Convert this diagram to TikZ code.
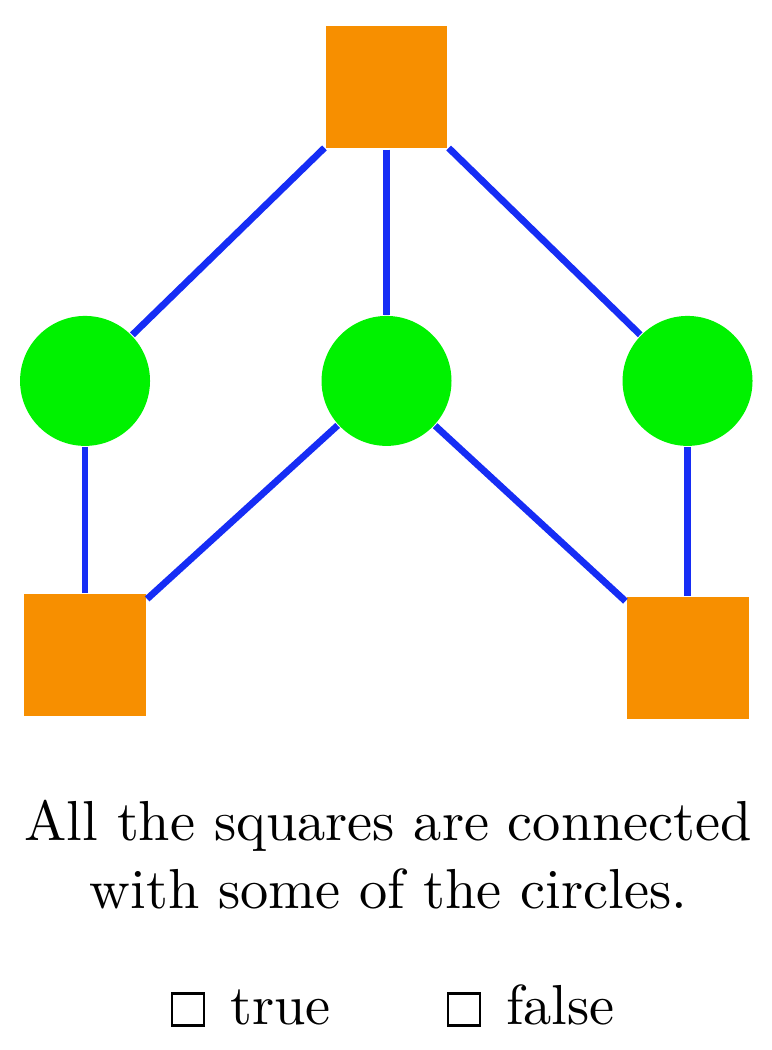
\documentclass[tikz,border=0pt]{standalone}
\usetikzlibrary{calc,shapes}
\definecolor{sqorange}{RGB}{247,143,0}
\definecolor{cgreen}{RGB}{0,242,0}
\definecolor{lblue}{RGB}{22,45,245}

\begin{document}
\begin{tikzpicture}[sq/.style={rectangle, inner sep=0, fill=sqorange, minimum size=0.76cm},
	cir/.style={circle, inner sep=0, fill=cgreen, minimum size=0.81cm},
	tick/.style={rectangle, inner sep=0, draw=black, line width=0.5pt, minimum size=0.2cm},
	lab/.style={inner sep=0, font=\normalsize},
	elink/.style={line width=1.2pt, lblue}]

		\useasboundingbox (-2.409,0.545) rectangle (2.397,-5.999);
		%squares
		\node[sq] at (0,0) (sq1) {};
		\node[sq] at (-1.879,-3.540) (sq2) {};
		\node[sq] at (1.876,-3.558) (sq3) {};
		%circles
		\node[cir] at (-1.879,-1.829) (c1) {};
		\node[cir] at (0,-1.829) (c2) {};
		\node[cir] at (1.876,-1.829) (c3) {};
		%links
		\foreach \i in {1,2,3} {
			\draw[elink] (sq1) -- (c\i);
		}
		\draw[elink] (c1) -- (sq2);
		\draw[elink] (c2) -- (sq2);
		\draw[elink] (c2) -- (sq3);
		\draw[elink] (c3) -- (sq3);
		%statement
		\node[lab,anchor=base,align=center] at (0.012,-5.114) (stmt) {All the squares are connected\\with some of the circles.};
		%answers
		\node[tick] at (-1.237,-5.745) (b1) {};
		\node[lab,anchor=base west] at (-0.982,-5.843) (ans1) {true};
		\node[tick] at (0.483,-5.745) (b2) {};
		\node[lab,anchor=base west] at (0.739,-5.843) (ans2) {false};
	\end{tikzpicture}
\end{document}
